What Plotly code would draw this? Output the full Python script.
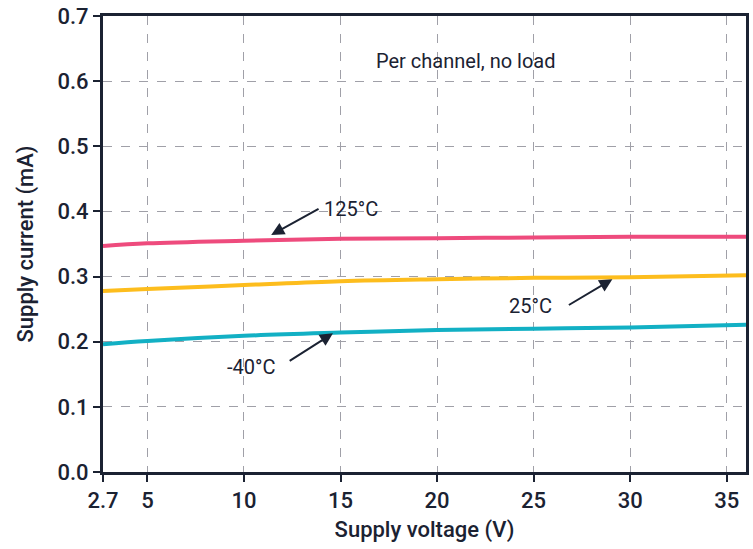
import plotly.graph_objects as go

voltage = [2.7, 5, 10, 15, 20, 25, 30, 36]
i_125 = [0.347, 0.351, 0.355, 0.358, 0.359, 0.360, 0.361, 0.361]
i_25 = [0.278, 0.281, 0.287, 0.293, 0.296, 0.298, 0.299, 0.302]
i_m40 = [0.196, 0.201, 0.209, 0.214, 0.218, 0.220, 0.222, 0.226]

x_ticks = [2.7, 5, 10, 15, 20, 25, 30, 35]
x_tick_text = ["2.7", "5", "10", "15", "20", "25", "30", "35"]
y_ticks = [0.0, 0.1, 0.2, 0.3, 0.4, 0.5, 0.6, 0.7]

FONT = "Roboto, Arial"
DARK = "#1b2232"

fig = go.Figure()
for y, c in [(i_125, "#ee4b7d"), (i_25, "#fdbd1d"), (i_m40, "#12b0c4")]:
    fig.add_trace(go.Scatter(x=voltage, y=y, mode="lines",
                             line=dict(color=c, width=4, shape="spline"),
                             showlegend=False, hoverinfo="skip"))

ann = []
labels = [("Per channel, no load", 21.5, 0.631),
          ("125°C", 15.55, 0.404),
          ("25°C", 24.84, 0.255),
          ("-40°C", 10.38, 0.161)]
for t, x, y in labels:
    ann.append(dict(text=t, x=x, y=y, xref="x", yref="y", showarrow=False,
                    font=dict(family=FONT, size=20, color=DARK)))
arrows = [(13.94, 0.405, 11.41, 0.364),
          (26.75, 0.255, 29.08, 0.296),
          (12.29, 0.169, 14.61, 0.213)]
for tx, ty, hx, hy in arrows:
    ann.append(dict(text="", x=hx, y=hy, ax=tx, ay=ty, xref="x", yref="y",
                    axref="x", ayref="y", showarrow=True, arrowhead=2,
                    arrowsize=1.3, arrowwidth=2, arrowcolor=DARK))

fig.update_layout(
    width=753, height=549,
    margin=dict(l=103, r=7, t=16, b=77, autoexpand=False),
    plot_bgcolor="white", paper_bgcolor="white",
    font=dict(family=FONT, color=DARK),
    annotations=ann,
)
common = dict(showline=True, linewidth=3, linecolor=DARK, mirror=True,
              ticks="outside", ticklen=7, tickwidth=2, tickcolor=DARK,
              showgrid=True, gridcolor="#a0a0a8", griddash="dash", gridwidth=1,
              zeroline=False, automargin=False, ticklabeloverflow="allow",
              tickfont=dict(family=FONT, size=22, color=DARK, weight=500))
fig.update_xaxes(range=[2.7, 36], tickvals=x_ticks, ticktext=x_tick_text,
                 title=dict(text="Supply voltage (V)",
                            font=dict(family=FONT, size=22, color=DARK, weight=500),
                            standoff=10),
                 **common)
fig.update_yaxes(range=[0, 0.7], tickvals=y_ticks, tickformat=".1f",
                 title=dict(text="Supply current (mA)",
                            font=dict(family=FONT, size=22, color=DARK, weight=500),
                            standoff=18),
                 **common)

fig.write_html("out.html", config={"displayModeBar": False},
               post_script="document.body.style.margin='0';document.body.style.overflow='hidden';")
